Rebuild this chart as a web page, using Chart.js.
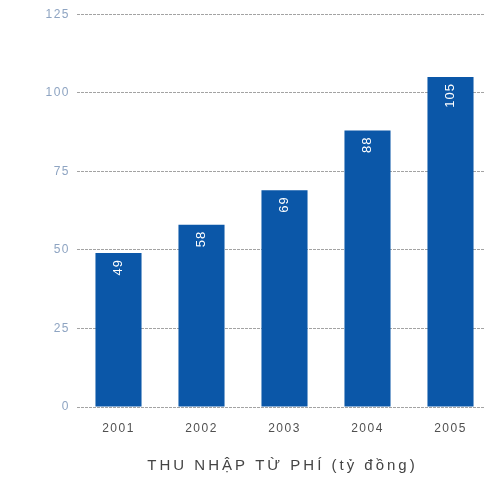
<!DOCTYPE html>
<html>
<head>
<meta charset="utf-8">
<script src="https://cdn.jsdelivr.net/npm/chart.js@4.4.0/dist/chart.umd.min.js"></script>
<style>
html,body{margin:0;padding:0;background:#fff;overflow:hidden;width:484px;height:481px;}
#wrap{position:relative;width:484px;height:481px;overflow:hidden;}
#c{position:absolute;left:0;top:0;}
</style>
</head>
<body>
<div id="wrap"><canvas id="c" width="492" height="481"></canvas></div>
<script>
const categories = ['2001', '2002', '2003', '2004', '2005'];
const values = [49, 58, 69, 88, 105];
const yTickValues = [0, 25, 50, 75, 100, 125];
const axisTitle = 'THU NHẬP TỪ PHÍ (tỷ đồng)';

const barColor = '#0b57a8';
const FONT = '"Liberation Sans", Arial, sans-serif';

const spacing = {
  id: 'spacing',
  beforeUpdate(chart) { if ('letterSpacing' in chart.ctx) chart.ctx.letterSpacing = '1.5px'; },
  beforeDraw(chart) { if ('letterSpacing' in chart.ctx) chart.ctx.letterSpacing = '1.5px'; }
};

const valueLabels = {
  id: 'valueLabels',
  afterDatasetsDraw(chart) {
    const ctx = chart.ctx;
    const meta = chart.getDatasetMeta(0);
    ctx.save();
    ctx.fillStyle = '#ffffff';
    ctx.font = '13px ' + FONT;
    if ('letterSpacing' in ctx) ctx.letterSpacing = '1px';
    ctx.textAlign = 'right';
    ctx.textBaseline = 'middle';
    meta.data.forEach((bar, i) => {
      ctx.save();
      ctx.translate(bar.x, bar.y + 6);
      ctx.rotate(-Math.PI / 2);
      ctx.fillText(String(values[i]), 0, 0);
      ctx.restore();
    });
    ctx.restore();
  }
};

const bottomTitle = {
  id: 'bottomTitle',
  afterDraw(chart) {
    const ctx = chart.ctx;
    const area = chart.chartArea;
    ctx.save();
    ctx.fillStyle = '#444444';
    ctx.font = '15px ' + FONT;
    if ('letterSpacing' in ctx) ctx.letterSpacing = '3px';
    ctx.textAlign = 'center';
    ctx.textBaseline = 'middle';
    ctx.fillText(axisTitle, (area.left + area.right) / 2 - 2, 466);
    ctx.restore();
  }
};

new Chart(document.getElementById('c'), {
  type: 'bar',
  data: {
    labels: categories,
    datasets: [{
      data: values,
      backgroundColor: barColor,
      borderWidth: 0,
      barPercentage: 0.555,
      categoryPercentage: 1.0
    }]
  },
  options: {
    responsive: false,
    animation: false,
    devicePixelRatio: 1,
    layout: { padding: { top: 14, left: 0, right: 0, bottom: 0 } },
    plugins: {
      legend: { display: false },
      tooltip: { enabled: false }
    },
    scales: {
      x: {
        grid: { display: false },
        border: { display: false },
        ticks: {
          color: '#505050',
          padding: 6,
          font: { size: 12, family: FONT }
        },
        afterFit(s) { s.height = 74; }
      },
      y: {
        min: 0,
        max: 125,
        afterBuildTicks(s) { s.ticks = yTickValues.map(v => ({ value: v })); },
        grid: {
          color: '#a3a3a3',
          lineWidth: 1,
          drawTicks: false
        },
        border: { display: false, dash: [3, 1] },
        ticks: {
          color: '#8ea4c2',
          padding: 7,
          font: { size: 12, family: FONT }
        },
        afterFit(s) { s.width = 77; }
      }
    }
  },
  plugins: [spacing, valueLabels, bottomTitle]
});
</script>
</body>
</html>
